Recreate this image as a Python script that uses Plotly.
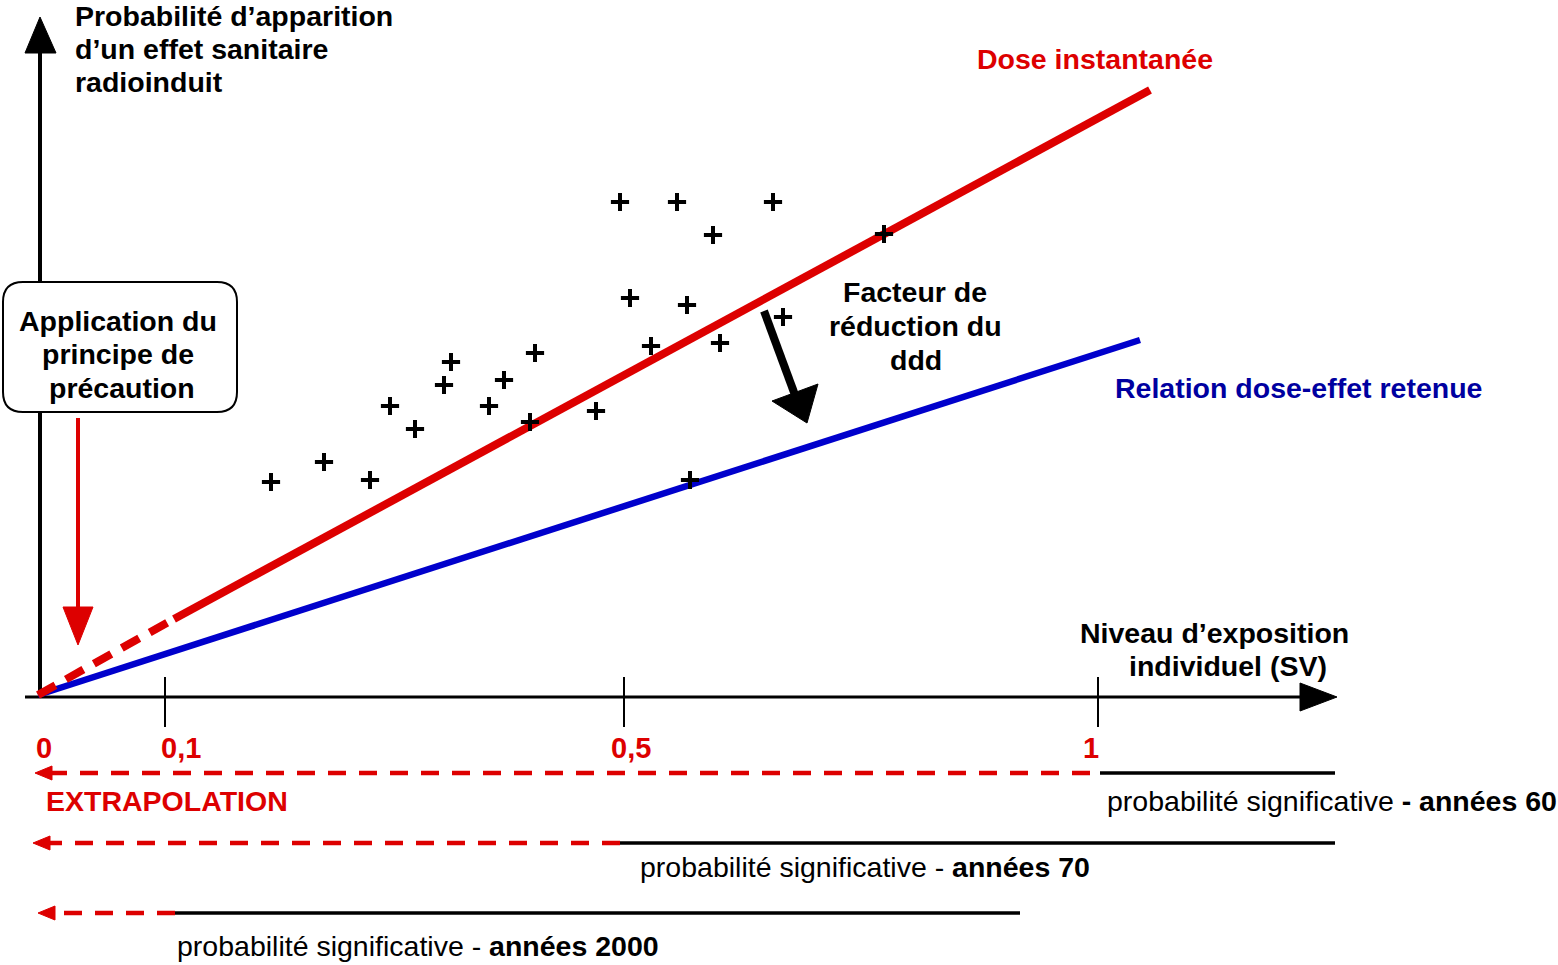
import plotly.graph_objects as go

# ---- data (diagram coordinates: x to the right, y downward, in px of the schematic) ----
tick_pos = [40, 165, 624, 1098]
tick_labels = ["0", "0,1", "0,5", "1"]
tick_label_x = [44, 181, 631, 1091]

red_dash_x = [38, 172]
red_dash_y = [695, 620]
red_solid_x = [174, 1150]
red_solid_y = [619, 90]
blue_x = [38, 1015, 1140]
blue_y = [695, 380, 340]

scatter_x = [620, 677, 773, 713, 884, 630, 687, 783, 651, 720, 535, 451, 444, 504,
             390, 489, 596, 415, 530, 324, 271, 370, 690]
scatter_y = [202, 202, 202, 235, 234, 298, 305, 317, 346, 343, 353, 362, 385, 380,
             406, 406, 411, 429, 422, 462, 482, 480, 480]

# extrapolation rows
row_y = [773, 843, 913]
row_red_from = [1090, 620, 175]
row_black_from = [1100, 620, 175]
row_black_to = [1335, 1335, 1020]
row_tip = [35, 33, 38]

RED = "#DD0000"
BLUE = "#0000CC"
NAVY = "#0000A0"
FONT = "Liberation Sans, Arial, sans-serif"
FS = 28.5

fig = go.Figure()

def line(xs, ys, color, width, dash=None):
    fig.add_trace(go.Scatter(x=xs, y=ys, mode="lines",
                             line=dict(color=color, width=width, dash=dash),
                             hoverinfo="skip", showlegend=False))

def tri(xs, ys, color):
    fig.add_trace(go.Scatter(x=xs + [xs[0]], y=ys + [ys[0]], mode="lines", fill="toself",
                             fillcolor=color, line=dict(color=color, width=1),
                             hoverinfo="skip", showlegend=False))

# axes
line([40, 40], [697, 50], "black", 4)
tri([25, 56, 40], [53, 53, 17], "black")
line([25, 1302], [697, 697], "black", 3)
tri([1300, 1300, 1337], [683, 711, 697], "black")
for tp in tick_pos[1:]:
    line([tp, tp], [677, 727], "black", 2)

# dose-effect lines
line(blue_x, blue_y, BLUE, 6.5)
line(red_dash_x, red_dash_y, RED, 8, "20px,12px")
line(red_solid_x, red_solid_y, RED, 8)

# scatter points
fig.add_trace(go.Scatter(x=scatter_x, y=scatter_y, mode="markers",
                         marker=dict(symbol="cross-thin", size=13,
                                     line=dict(color="black", width=4)),
                         hoverinfo="skip", showlegend=False))

# reduction arrow
line([764, 795], [311, 395], "black", 8)
tri([772, 818, 807], [401, 384, 423], "black")

# precaution arrow
line([78, 78], [418, 610], RED, 4)
tri([63, 93, 78], [607, 607, 645], RED)

# extrapolation rows
for y, rf, bf, bt, tip in zip(row_y, row_red_from, row_black_from, row_black_to, row_tip):
    line([rf, tip + 16], [y, y], RED, 4.5, "18px,13px")
    tri([tip + 17, tip + 17, tip], [y - 7, y + 7, y], RED)
    line([bf, bt], [y, y], "black", 3.5)

# rounded box
x0, x1, y0, y1, r = 3, 237, 282, 412, 20
path = (f"M {x0+r},{y0} L {x1-r},{y0} Q {x1},{y0} {x1},{y0+r} L {x1},{y1-r} "
        f"Q {x1},{y1} {x1-r},{y1} L {x0+r},{y1} Q {x0},{y1} {x0},{y1-r} "
        f"L {x0},{y0+r} Q {x0},{y0} {x0+r},{y0} Z")
fig.add_shape(type="path", path=path, xref="x", yref="y",
              line=dict(color="black", width=2), fillcolor="white")

def text(x, y, s, size=FS, color="black", xanchor="center"):
    fig.add_annotation(x=x, y=y, xref="x", yref="y", text=s, showarrow=False,
                       xanchor=xanchor, yanchor="middle",
                       font=dict(family=FONT, size=size, color=color))

for s, y in zip(["Probabilité d’apparition", "d’un effet sanitaire", "radioinduit"], [16, 49, 82]):
    text(73, y, f"<b>{s}</b>", xanchor="left")
for s, x, y in zip(["Application du", "principe de", "précaution"], [118, 118, 122], [321, 354, 388]):
    text(x, y, f"<b>{s}</b>")
for s, x, y in zip(["Facteur de", "réduction du", "ddd"], [915, 915, 916], [292, 326, 360]):
    text(x, y, f"<b>{s}</b>")
for s, x, y in zip(["Niveau d’exposition", "individuel (SV)"], [1214, 1228], [633, 666]):
    text(x, y, f"<b>{s}</b>")

text(1095, 59, "<b>Dose instantanée</b>", color=RED)
text(1298, 388, "<b>Relation dose-effet retenue</b>", color=NAVY)

for tx, tl in zip(tick_label_x, tick_labels):
    text(tx, 748, f"<b>{tl}</b>", size=29, color=RED)

text(44, 801, "<b>EXTRAPOLATION</b>", color=RED, xanchor="left")
text(1105, 801, "probabilité significative <b>- années 60</b>", xanchor="left")
text(638, 867, "probabilité significative - <b>années 70</b>", xanchor="left")
text(175, 946, "probabilité significative - <b>années 2000</b>", xanchor="left")

fig.update_xaxes(range=[0, 1558], visible=False)
fig.update_yaxes(range=[965, 0], visible=False)
fig.update_layout(width=1558, height=965, margin=dict(l=0, r=0, t=0, b=0),
                  plot_bgcolor="white", paper_bgcolor="white")

fig.write_html("out.html", config={"displayModeBar": False},
               post_script="document.body.style.margin='0px';document.body.style.overflow='hidden';")
